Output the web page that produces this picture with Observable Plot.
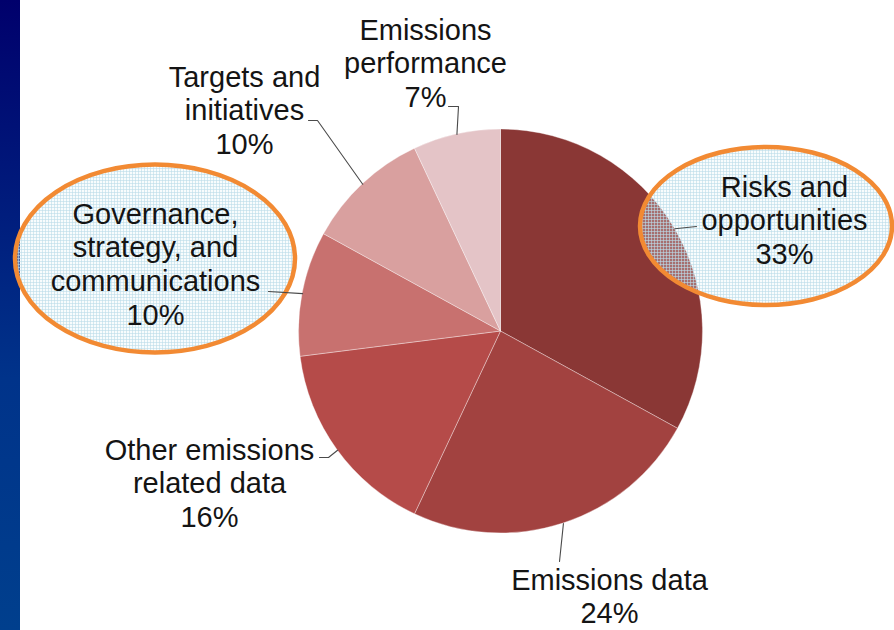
<!DOCTYPE html>
<html>
<head>
<meta charset="utf-8">
<script src="https://cdn.jsdelivr.net/npm/d3@7"></script>
<script src="https://cdn.jsdelivr.net/npm/@observablehq/plot@0.6"></script>
<style>
  html, body { margin: 0; padding: 0; }
  body {
    width: 894px; height: 630px; overflow: hidden; position: relative;
    background: linear-gradient(to bottom, #00006c, #00338a 60%, #003f8d) no-repeat 0 0 / 20px 630px, #ffffff;
  }
  #chart { position: absolute; left: 0; top: 0; }
</style>
</head>
<body>
<div id="chart"></div>
<script>
// ---- data ----
const categories = [
  "Risks and opportunities",
  "Emissions data",
  "Other emissions related data",
  "Governance, strategy, and communications",
  "Targets and initiatives",
  "Emissions performance"
];
const shares = [33, 24, 16, 10, 10, 7];
const labelText = [
  "Risks and\nopportunities\n33%",
  "Emissions data\n24%",
  "Other emissions\nrelated data\n16%",
  "Governance,\nstrategy, and\ncommunications\n10%",
  "Targets and\ninitiatives\n10%",
  "Emissions\nperformance\n7%"
];

// ---- styles / layout ----
const sliceColors = ["#8a3735", "#a24240", "#b54b49", "#c8716f", "#d9a09f", "#e4c4c7"];
const pieCenter = [500.5, 331];
const pieRadius = 202;
// label block top-centre (first line top) for each slice
const labelAnchor = [[784, 172], [609, 565], [209, 435], [155, 199], [244, 62], [425, 15]];
// leader line: elbow points after the slice edge (ending near the label)
const leaderPts = [
  [[696, 226]],
  [[559, 561]],
  [[328, 457], [319, 457]],
  [[268, 291]],
  [[317, 120], [308, 120]],
  [[458, 106], [448, 106]]
];
// annotation ellipses around highlighted labels: [cx, cy, rx, ry]
const ellipseGeom = [[766, 226, 126, 79], [155, 258.5, 140, 94]];

// ---- derived ----
const records = categories.map((c, i) => ({category: c, share: shares[i], label: labelText[i], color: sliceColors[i]}));
const arcs = d3.pie().sort(null).value(d => d.share).startAngle(0).endAngle(2 * Math.PI)(records);

const edgePoint = (a) => [pieCenter[0] + pieRadius * Math.sin(a), pieCenter[1] - pieRadius * Math.cos(a)];

const leaderRows = [];
arcs.forEach((a, i) => {
  const mid = (a.startAngle + a.endAngle) / 2;
  const pts = [edgePoint(mid), ...leaderPts[i]];
  pts.forEach(([x, y]) => leaderRows.push({k: i, x, y}));
});

const labelRows = records.map((r, i) => ({...r, x: labelAnchor[i][0], y: labelAnchor[i][1]}));

// ---- custom marks ----
function pieMark(index, scales) {
  const cx = scales.x(pieCenter[0]), cy = scales.y(pieCenter[1]);
  const R = scales.x(pieCenter[0] + pieRadius) - cx;
  const arcGen = d3.arc().innerRadius(0).outerRadius(R);
  const g = d3.create("svg:g").attr("transform", `translate(${cx},${cy})`);
  g.selectAll("path").data(arcs).join("path")
    .attr("d", arcGen)
    .attr("fill", d => d.data.color)
    .attr("stroke", "rgba(255,255,255,0.35)")
    .attr("stroke-width", 1)
    .append("title").text(d => `${d.data.category}: ${d.data.share}%`);
  return g.node();
}

function ellipseMark(index, scales) {
  const g = d3.create("svg:g");
  const defs = g.append("defs");
  const pat = defs.append("pattern")
    .attr("id", "hatchgrid").attr("patternUnits", "userSpaceOnUse")
    .attr("width", 3).attr("height", 3);
  pat.append("rect").attr("width", 3).attr("height", 3).attr("fill", "#eaf5fa").attr("fill-opacity", 0.3);
  pat.append("path").attr("d", "M0,0.5H3M0.5,0V3").attr("stroke", "#bcdcea").attr("stroke-opacity", 0.6).attr("stroke-width", 1);
  ellipseGeom.forEach(([ex, ey, rx, ry]) => {
    const px = scales.x(ex), py = scales.y(ey);
    const prx = scales.x(ex + rx) - px, pry = scales.y(ey + ry) - py;
    g.append("ellipse").attr("cx", px).attr("cy", py).attr("rx", prx).attr("ry", pry)
      .attr("fill", "url(#hatchgrid)")
      .attr("stroke", "#f28a33").attr("stroke-width", 4.5);
  });
  return g.node();
}

const chart = Plot.plot({
  width: 894,
  height: 630,
  margin: 0,
  style: {background: "transparent", overflow: "visible"},
  x: {type: "linear", domain: [0, 894], range: [0, 894], axis: null},
  y: {type: "linear", domain: [0, 630], range: [0, 630], axis: null},
  marks: [
    pieMark,
    ellipseMark,
    Plot.line(leaderRows, {x: "x", y: "y", z: "k", stroke: "#4a4a4a", strokeWidth: 1.1}),
    Plot.text(labelRows, {
      x: "x", y: "y", text: "label",
      lineAnchor: "top", lineHeight: 1.165,
      fontSize: 29, fontFamily: "'Liberation Sans', Arial, sans-serif",
      fill: "#141414", textAnchor: "middle"
    })
  ]
});
document.getElementById("chart").appendChild(chart);
</script>
</body>
</html>
